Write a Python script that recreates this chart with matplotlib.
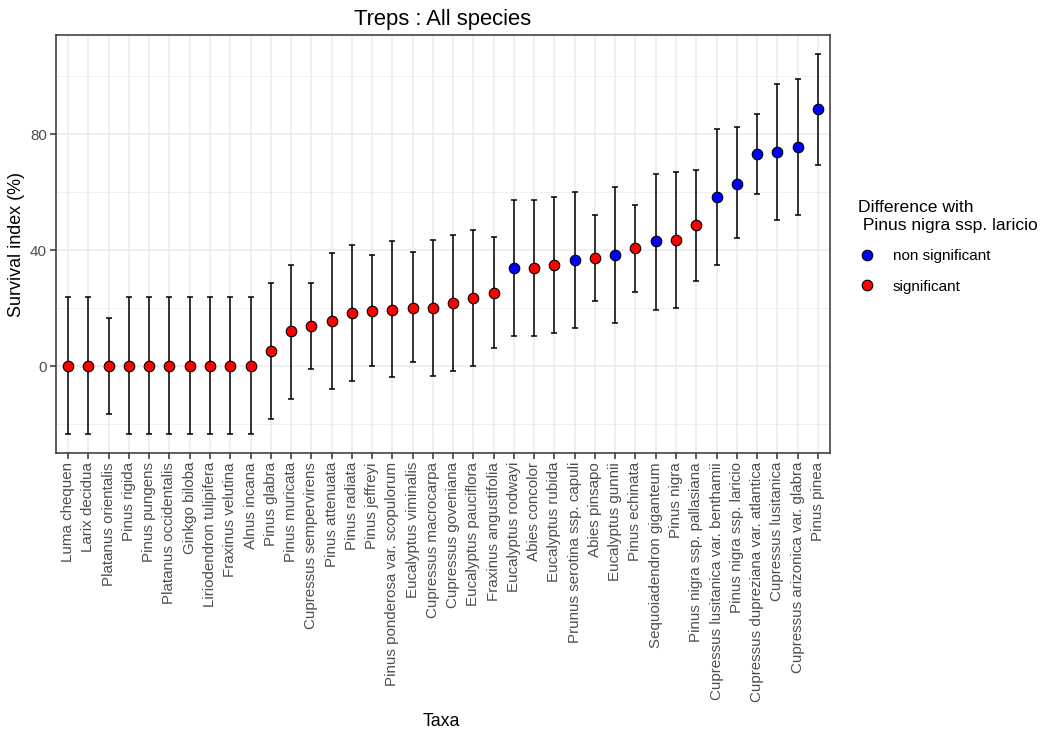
import matplotlib

matplotlib.use("Agg")
import matplotlib.pyplot as plt
from matplotlib.lines import Line2D
import numpy as np

plt.rcParams["font.family"] = ["Liberation Sans", "DejaVu Sans"]

taxa = [
    "Luma chequen", "Larix decidua", "Platanus orientalis", "Pinus rigida",
    "Pinus pungens", "Platanus occidentalis", "Ginkgo biloba",
    "Liriodendron tulipifera", "Fraxinus velutina", "Alnus incana",
    "Pinus glabra", "Pinus muricata", "Cupressus sempervirens",
    "Pinus attenuata", "Pinus radiata", "Pinus jeffreyi",
    "Pinus ponderosa var. scopulorum", "Eucalyptus viminalis",
    "Cupressus macrocarpa", "Cupressus goveniana", "Eucalyptus pauciflora",
    "Fraxinus angustifolia", "Eucalyptus rodwayi", "Abies concolor",
    "Eucalyptus rubida", "Prunus serotina ssp. capuli", "Abies pinsapo",
    "Eucalyptus gunnii", "Pinus echinata", "Sequoiadendron giganteum",
    "Pinus nigra", "Pinus nigra ssp. pallasiana",
    "Cupressus lusitanica var. benthamii", "Pinus nigra ssp. laricio",
    "Cupressus dupreziana var. atlantica", "Cupressus lusitanica",
    "Cupressus arizonica var. glabra", "Pinus pinea",
]
survival = [
    0, 0, 0, 0, 0, 0, 0, 0, 0, 0,
    5.2, 12.0, 13.8, 15.4, 18.3, 18.9, 19.4, 20.1, 20.1, 21.7,
    23.4, 25.2, 33.8, 33.8, 34.9, 36.7, 37.2, 38.4, 40.7, 43.0,
    43.6, 48.6, 58.4, 62.9, 73.1, 73.7, 75.4, 88.6,
]
ci_low = [
    -23.4, -23.4, -16.6, -23.4, -23.4, -23.4, -23.4, -23.4, -23.4, -23.4,
    -18.3, -11.4, -1.1, -7.9, -5.1, 0.0, -3.9, 1.3, -3.4, -1.6,
    0.0, 6.3, 10.3, 10.3, 11.5, 13.2, 22.3, 14.9, 25.7, 19.5,
    20.1, 29.3, 34.9, 44.0, 59.5, 50.3, 52.1, 69.3,
]
ci_high = [
    23.7, 23.7, 16.7, 23.7, 23.7, 23.7, 23.7, 23.7, 23.7, 23.7,
    28.6, 34.9, 28.6, 38.9, 41.7, 38.3, 43.0, 39.5, 43.4, 45.2,
    46.9, 44.6, 57.2, 57.2, 58.4, 60.1, 52.1, 61.8, 55.5, 66.4,
    67.0, 67.5, 81.8, 82.4, 86.9, 97.1, 99.0, 107.6,
]
S, NS = "significant", "non significant"
difference = [S] * 22 + [NS, S, S, NS, S, NS, S, NS, S, S] + [NS] * 6

FILL = {NS: "#0000FF", S: "#FF0000"}
GRID = "#EBEBEB"
DARK = "#333333"

survival = np.array(survival)
ci_low = np.array(ci_low)
ci_high = np.array(ci_high)
x = np.arange(len(taxa))

W, H = 1046, 736
fig = plt.figure(figsize=(W / 100, H / 100), dpi=100)
ax = fig.add_axes([56 / W, 1 - 453 / H, (830 - 56) / W, (453 - 35) / H])

ax.errorbar(x, survival, yerr=[survival - ci_low, ci_high - survival], fmt="none",
            ecolor="black", elinewidth=1.1, capsize=2.0, capthick=1.1, zorder=3)
for level in (NS, S):
    idx = [i for i, d in enumerate(difference) if d == level]
    ax.plot(x[idx], survival[idx], "o", ms=7.6, mfc=FILL[level], mec="black",
            mew=0.8, zorder=4)

# ggplot-like expansion: 0.6 units on the discrete axis, 5% on the continuous one
lo, hi = ci_low.min(), ci_high.max()
pad = 0.05 * (hi - lo)
ax.set_xlim(-0.6, len(taxa) - 0.4)
ax.set_ylim(lo - pad, hi + pad)

ax.set_xticks(x)
ax.set_xticklabels(taxa, rotation=90, ha="center", va="top")
ax.set_yticks([0, 40, 80])
ax.set_yticks([-20, 20, 60, 100], minor=True)

ax.set_axisbelow(True)
ax.grid(which="major", color=GRID, lw=1.1)
ax.grid(which="minor", axis="y", color=GRID, lw=0.55)
for sp in ax.spines.values():
    sp.set_color(DARK)
    sp.set_linewidth(1.1)
ax.tick_params(which="major", color=DARK, length=4, width=1.1,
               labelcolor="#4D4D4D", labelsize=10.9, pad=2.5)
ax.tick_params(which="minor", length=0)

ax.set_title("Treps : All species", fontsize=15.8, pad=7)
fig.text(17 / W, 1 - 245 / H, "Survival index (%)", rotation=90,
         ha="center", va="center", fontsize=12.9)
fig.text(441 / W, 1 - 722 / H, "Taxa", ha="center", va="center", fontsize=12.8)

handles = [
    Line2D([], [], ls="none", marker="o", ms=7.6, mfc=FILL[lv], mec="black", mew=0.8)
    for lv in (NS, S)
]
fig.legend(handles, [NS, S], title="Difference with\n Pinus nigra ssp. laricio",
           loc="upper left", bbox_to_anchor=(852 / W, 1 - 194 / H), frameon=False,
           fontsize=11, title_fontsize=12.6, alignment="left",
           handlelength=1.18, handletextpad=1.1, labelspacing=1.08, borderaxespad=0)

fig.savefig("out.png", dpi=100, facecolor="white")
